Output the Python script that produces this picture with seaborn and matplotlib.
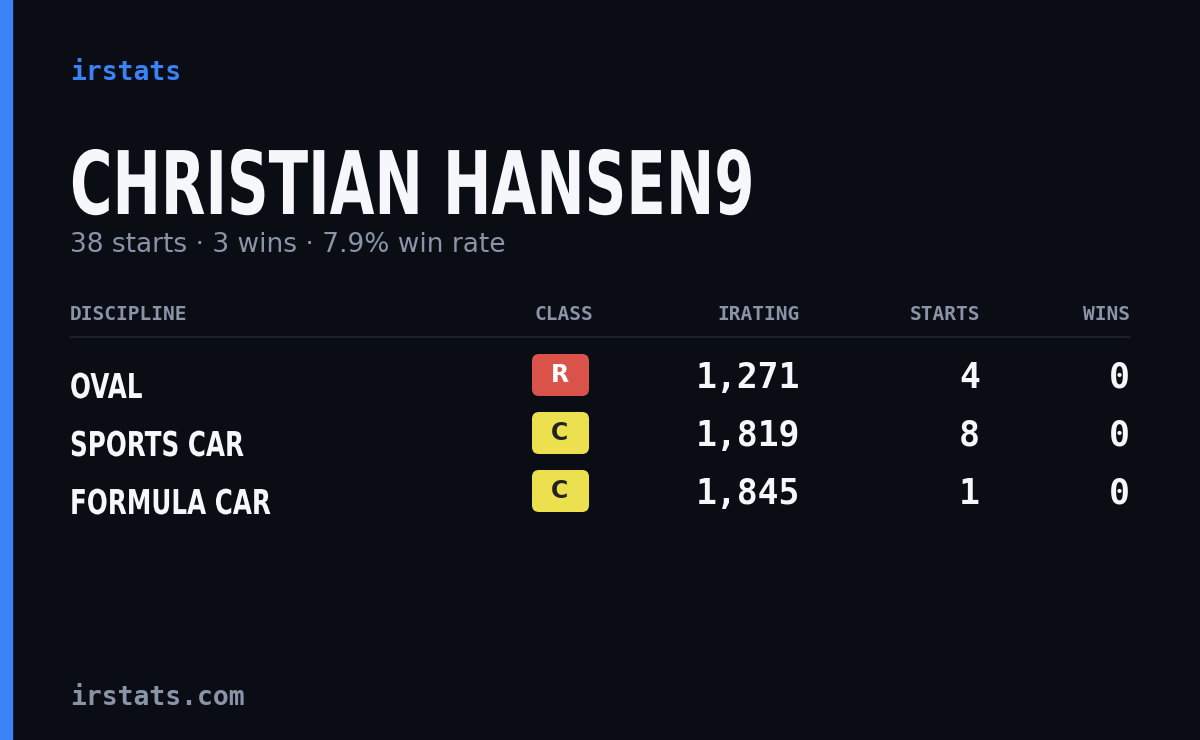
import matplotlib
matplotlib.use("Agg")
import matplotlib.pyplot as plt
from matplotlib.patches import FancyBboxPatch, Rectangle, PathPatch
from matplotlib.textpath import TextPath
from matplotlib.font_manager import FontProperties
from matplotlib.transforms import Affine2D
import seaborn as sns

brand = "irstats"
driver = "CHRISTIAN HANSEN9"
subtitle = "38 starts · 3 wins · 7.9% win rate"
footer = "irstats.com"
columns = ["DISCIPLINE", "CLASS", "IRATING", "STARTS", "WINS"]
disciplines = ["OVAL", "SPORTS CAR", "FORMULA CAR"]
classes = ["R", "C", "C"]
iratings = [1271, 1819, 1845]
starts = [4, 8, 1]
wins = [0, 0, 0]

class_colors = {"R": ("#d9534a", "#ffffff"), "C": ("#ede04f", "#222222")}
bg = "#0a0d14"
muted = "#8a94a8"
white = "#f5f7fb"

sns.set_theme(style="white")
plt.rcParams["font.family"] = ["DejaVu Sans"]
mono = ["DejaVu Sans Mono"]
bold_fp = FontProperties(family="DejaVu Sans", weight="bold")


def condensed(ax, x, baseline, s, cap_px, sx):
    # squeeze a bold text path horizontally to mimic a condensed face
    size = cap_px / 0.73
    tp = TextPath((0, 0), s, size=size, prop=bold_fp)
    tr = Affine2D().scale(sx, -1).translate(x, baseline)
    ax.add_patch(PathPatch(tr.transform_path(tp), facecolor=white, edgecolor="none"))


fig = plt.figure(figsize=(12, 7.4), dpi=100, facecolor=bg)
ax = fig.add_axes([0, 0, 1, 1])
ax.set_facecolor(bg)
ax.set_xlim(0, 1200)
ax.set_ylim(740, 0)
ax.axis("off")

ax.add_patch(Rectangle((0, 0), 12, 740, color="#3b82f6"))

ax.text(70, 73, brand, color="#3b82f6", fontsize=19, family=mono, weight="bold", va="center")
condensed(ax, 70, 214, driver, 64, 0.66)
ax.text(70, 245, subtitle, color=muted, fontsize=19, va="center")

col_x = [70, 593, 800, 980, 1130]
col_ha = ["left", "right", "right", "right", "right"]
for name, x, ha in zip(columns, col_x, col_ha):
    ax.text(x, 314, name, color=muted, fontsize=14, family=mono, weight="bold", ha=ha, va="center")
ax.plot([70, 1130], [337, 337], color="#1f2430", lw=1.2)

row_y0, row_h = 378, 58
for i, (d, c, ir, s, w) in enumerate(zip(disciplines, classes, iratings, starts, wins)):
    y = row_y0 + i * row_h
    condensed(ax, 70, y + 20, d, 25, 0.72)
    fc, tc = class_colors[c]
    ax.add_patch(FancyBboxPatch((532, y - 24), 57, 42, boxstyle="round,pad=0,rounding_size=7",
                                facecolor=fc, edgecolor="none"))
    ax.text(560, y - 3, c, color=tc, fontsize=17, weight="bold", ha="center", va="center")
    for val, x in ((f"{ir:,}", 800), (str(s), 980), (str(w), 1130)):
        ax.text(x, y, val, color=white, fontsize=25, family=mono, weight="bold", ha="right", va="center")

ax.text(70, 698, footer, color=muted, fontsize=19, family=mono, weight="bold", va="center")

fig.savefig("out.png", dpi=100, facecolor=bg)
